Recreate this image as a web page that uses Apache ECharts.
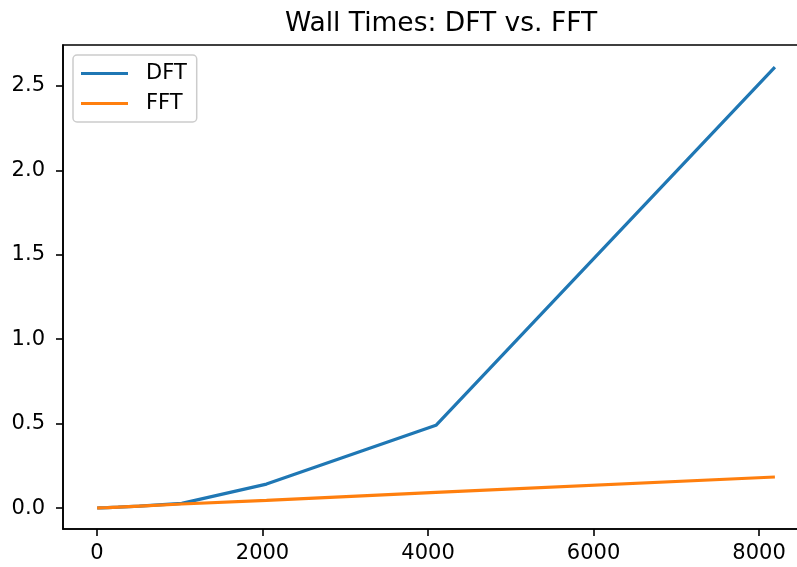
<!DOCTYPE html>
<html>
<head>
<meta charset="utf-8">
<script src="https://cdn.jsdelivr.net/npm/echarts@6/dist/echarts.min.js"></script>
<style>
html,body{margin:0;padding:0;background:#fff;}
#chart{width:797px;height:567px;}
</style>
</head>
<body>
<div id="chart"></div>
<script>
const sizes = [1, 2, 4, 8, 16, 32, 64, 128, 256, 512, 1024, 2048, 4096, 8192];
const dftTimes = [0.0004, 0.0004, 0.0005, 0.0006, 0.0008, 0.0011, 0.0016, 0.0028, 0.0055, 0.0115, 0.028, 0.142, 0.490, 2.612];
const fftTimes = [0.0005, 0.0005, 0.0006, 0.0007, 0.0009, 0.0012, 0.0018, 0.003, 0.006, 0.012, 0.024, 0.046, 0.093, 0.184];
const xTicks = [0, 2000, 4000, 6000, 8000];
const yTicks = [0.0, 0.5, 1.0, 1.5, 2.0, 2.5];
const seriesNames = ['DFT', 'FFT'];

const FONT = 'DejaVu Sans';
const chart = echarts.init(document.getElementById('chart'), null, {renderer: 'canvas'});
const pairs = arr => sizes.map((s, i) => [s, arr[i]]);

chart.setOption({
  animation: false,
  backgroundColor: '#ffffff',
  title: {
    text: 'Wall Times: DFT vs. FFT',
    left: 436, top: 6, textAlign: 'center',
    textStyle: {fontFamily: FONT, fontSize: 26.5, fontWeight: 'normal', color: '#000'}
  },
  legend: {
    data: seriesNames,
    orient: 'vertical',
    left: 73, top: 55,
    padding: [8, 10, 8, 8],
    itemGap: 9,
    itemWidth: 47, itemHeight: 3,
    icon: 'rect',
    backgroundColor: 'rgba(255,255,255,0.8)',
    borderColor: '#cccccc', borderWidth: 1.5, borderRadius: 4,
    textStyle: {fontFamily: FONT, fontSize: 21, color: '#000', padding: [0, 0, 0, 13]}
  },
  grid: {left: 63, top: 45, width: 746, height: 484, containLabel: false, outerBoundsMode: 'none',
    show: true, borderColor: '#000', borderWidth: 1.6, backgroundColor: 'transparent'},
  xAxis: {
    type: 'value', min: -411, max: 8604,
    splitLine: {show: false},
    axisLine: {show: true, onZero: false, lineStyle: {color: '#000', width: 1.6}},
    axisTick: {show: true, length: 7, lineStyle: {color: '#000', width: 1.6}, customValues: xTicks},
    axisLabel: {fontFamily: FONT, fontSize: 21, color: '#000', margin: 14, customValues: xTicks,
      formatter: v => String(Math.round(v))}
  },
  yAxis: {
    type: 'value', min: -0.124, max: 2.743,
    splitLine: {show: false},
    axisLine: {show: true, onZero: false, lineStyle: {color: '#000', width: 1.6}},
    axisTick: {show: true, length: 7, lineStyle: {color: '#000', width: 1.6}, customValues: yTicks},
    axisLabel: {fontFamily: FONT, fontSize: 21, color: '#000', margin: 18, customValues: yTicks,
      formatter: v => v.toFixed(1)}
  },
  series: [
    {name: 'DFT', type: 'line', data: pairs(dftTimes), showSymbol: false, symbol: 'none',
     lineStyle: {color: '#1f77b4', width: 3.2}, itemStyle: {color: '#1f77b4'}, z: 2},
    {name: 'FFT', type: 'line', data: pairs(fftTimes), showSymbol: false, symbol: 'none',
     lineStyle: {color: '#ff7f0e', width: 3.2}, itemStyle: {color: '#ff7f0e'}, z: 3}
  ]
});
</script>
</body>
</html>
